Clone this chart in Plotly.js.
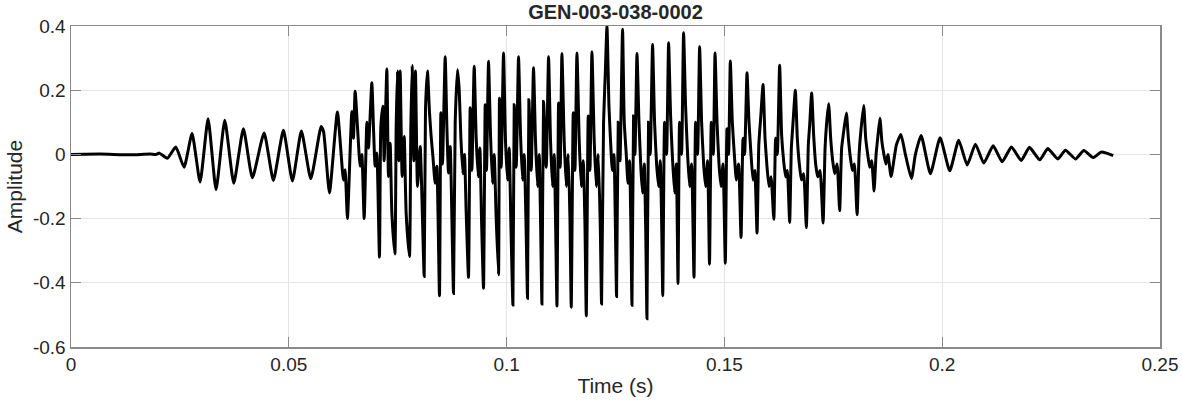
<!DOCTYPE html>
<html>
<head>
<meta charset="utf-8">
<script src="https://cdn.plot.ly/plotly-3.0.1.min.js"></script>
<style>html,body{margin:0;padding:0;background:#fff;}#chart{width:1182px;height:404px;}</style>
</head>
<body>
<div id="chart"></div>
<script>
// Time in milliseconds (extrema and turning points of the waveform)
const timeMs = [
  0, 6.66, 13.55, 18.14, 19.52,
  20.28, 22.12, 24.05, 25.95, 27.79, 29.63, 31.47, 33.30, 35.30, 37.37, 39.57, 41.64,
  44.33, 46.46, 48.76, 50.83, 52.89, 55.05, 57.42, 57.99, 59.33, 61.16, 62.54, 62.93, 63.46,
  64.47, 64.84, 65.23, 65.76, 66.38, 66.77, 67.30,
  67.92, 68.29, 69.06, 69.43, 69.82, 70.21, 70.81,
  71.13, 71.59, 71.89, 72.51, 72.88, 73.27, 73.66, 74.35,
  74.65, 74.94, 75.27, 75.56, 76.02, 76.49, 76.94, 77.70,
  78.02, 78.32, 78.71, 79.08, 79.54, 80.16, 81.08,
  81.38, 81.83, 82.30, 82.68, 83.08, 83.60, 83.99, 84.59,
  84.91, 85.28, 85.90, 86.29, 86.66, 87.05, 87.81,
  88.20, 88.73, 89.12, 89.51, 89.97, 90.33, 90.72, 91.25,
  91.64, 92.03, 92.56, 93.02, 93.48, 93.87, 94.24, 94.70,
  95.09, 95.39, 95.85, 96.31, 96.76, 97.15, 97.61, 98.14,
  98.37, 98.76, 99.29, 99.75, 100.21, 100.60, 100.99, 101.45,
  101.75, 102.21, 102.74, 103.20, 103.66, 104.04, 104.43, 104.80,
  105.12, 105.65, 106.18, 106.64, 107.10, 107.49, 107.79, 108.11,
  108.48, 109.10, 109.63, 110.09, 110.54, 110.93, 111.23, 111.56,
  111.93, 112.31, 112.70, 113.23, 113.69, 114.15, 114.54, 114.84,
  115.30, 115.69, 116.15, 116.68, 117.14, 117.60, 117.99, 118.29,
  118.74, 119.13, 119.59, 120.12, 120.58, 121.04, 121.50, 121.80,
  122.26, 122.65, 123.04, 123.50, 123.87, 124.26, 124.65, 124.95, 125.24,
  125.63, 126.03, 126.62, 127.01, 127.47, 127.86, 128.23, 128.50, 128.78,
  129.15, 129.47, 129.93, 130.39, 130.85, 131.21, 131.61, 131.95, 132.22,
  132.59, 132.98, 133.51, 133.97, 134.43, 134.89, 135.28, 135.58, 135.85,
  136.27, 136.73, 137.19, 137.65, 138.11, 138.57, 138.96, 139.35,
  139.71, 140.17, 140.63, 141.09, 141.55, 142.01, 142.47, 143.02,
  143.39, 143.85, 144.31, 144.77, 145.23, 145.68, 146.14, 146.58,
  147.00, 147.46, 147.85, 148.31, 148.76, 149.22, 149.68, 150.21,
  150.60, 150.97, 151.36, 151.82, 152.28, 152.74, 153.26, 153.82,
  154.28, 154.64, 155.19, 155.65, 156.11, 156.57, 156.98, 157.49,
  157.90, 158.36, 158.87, 159.33, 159.79, 160.25, 160.71, 161.35,
  161.76, 162.15, 162.68, 163.14, 163.60, 164.06, 164.45, 164.98,
  165.37, 165.76, 166.28, 166.74, 167.20, 167.67, 168.19, 168.81,
  169.27, 169.57, 170.03, 170.49, 170.95, 171.41, 171.96, 172.65,
  173.11, 173.48, 173.94, 174.40, 174.86, 175.32, 175.87, 176.46,
  176.92, 177.47, 178.00, 178.46, 178.92, 179.38, 179.84, 180.46,
  180.92, 181.38, 181.98, 182.44, 182.90, 183.35, 183.81, 184.36,
  184.82, 185.19, 185.70, 186.16, 186.62, 187.08, 187.53, 188.27,
  189.49, 190.52, 191.55, 192.93, 193.85, 195.16, 197.30, 199.52, 201.73, 203.79,
  205.73, 207.63, 209.54, 211.70, 213.76, 215.90, 218.13, 220.03, 222.40, 224.23,
  226.54, 228.30, 230.60, 232.51, 234.66, 236.45, 237.72, 239.25
];

// Amplitude at each of those times
const amplitude = [
  0, 0.001, -0.001, 0.001, 0,
  0.004, -0.012, 0.023, -0.04, 0.065, -0.086, 0.111, -0.11, 0.106, -0.09, 0.08, -0.073,
  0.067, -0.081, 0.075, -0.083, 0.073, -0.076, 0.087, 0.07, -0.12, 0.132, -0.08, -0.048, -0.2,
  0.134, 0.05, 0.197, 0.087, -0.037, 0.0, -0.2,
  0.1, 0.02, 0.223, 0.087, -0.037, 0.004, -0.32,
  0.087, 0.15, -0.02, 0.266, -0.069, 0.035, -0.183, -0.31,
  0.087, 0.26, -0.02, 0.26, -0.069, 0.056, -0.183, -0.318,
  0.087, 0.277, -0.02, 0.26, -0.1, 0.025, -0.38,
  0.14, 0.26, 0.13, 0.056, -0.006, -0.09, -0.037, -0.44,
  0.13, -0.03, 0.304, 0.087, -0.058, 0.025, -0.433,
  0.1, 0.264, 0.2, 0.05, -0.06, 0.0, -0.18, -0.383,
  0.145, -0.05, 0.275, 0.05, -0.07, 0.02, -0.2, -0.417,
  0.155, -0.05, 0.29, 0.06, -0.09, 0.0, -0.2, -0.375,
  0.175, -0.04, 0.316, 0.04, -0.08, 0.02, -0.22, -0.469,
  0.155, -0.04, 0.304, 0.06, -0.08, 0.0, -0.2, -0.448,
  0.17, -0.05, 0.27, 0.04, -0.1, 0.0, -0.2, -0.466,
  0.165, -0.04, 0.304, 0.04, -0.1, 0.0, -0.2, -0.472,
  0.16, -0.04, 0.314, 0.04, -0.1, 0.0, -0.2, -0.476,
  0.13, -0.05, 0.316, 0.04, -0.1, -0.02, -0.22, -0.503,
  0.12, -0.05, 0.32, 0.04, -0.1, 0.0, -0.22, -0.466,
  0.1, 0.25, 0.4, 0.15, 0.04, -0.05, 0.0, -0.2, -0.443,
  0.1, -0.02, 0.39, 0.1, 0.0, -0.09, -0.02, -0.2, -0.47,
  0.12, 0.0, 0.314, 0.1, -0.05, -0.12, -0.03, -0.25, -0.512,
  0.1, 0.0, 0.342, 0.1, -0.03, -0.1, -0.02, -0.2, -0.44,
  0.1, 0.0, 0.348, 0.12, -0.02, -0.12, -0.03, -0.402,
  0.1, 0.0, 0.379, 0.15, 0.0, -0.1, -0.03, -0.383,
  0.1, 0.0, 0.335, 0.1, -0.03, -0.1, -0.02, -0.342,
  0.1, 0.0, 0.316, 0.1, -0.03, -0.1, -0.03, -0.339,
  0.08, 0.0, 0.291, 0.1, 0.0, -0.08, -0.03, -0.259,
  0.05, 0.0, 0.254, 0.1, 0.0, -0.08, -0.05, -0.245,
  0.03, 0.12, 0.218, 0.05, -0.04, -0.1, -0.07, -0.202,
  0.05, 0.0, 0.278, 0.06, -0.02, -0.07, -0.05, -0.212,
  0.02, 0.1, 0.2, 0.05, -0.03, -0.08, -0.06, -0.228,
  0.03, 0.09, 0.191, 0.06, -0.03, -0.07, -0.05, -0.214,
  0.02, 0.1, 0.158, 0.05, -0.02, -0.06, -0.03, -0.175,
  0.02, 0.08, 0.129, 0.05, -0.01, -0.05, -0.03, -0.188,
  0.0, 0.08, 0.152, 0.05, 0.0, -0.04, -0.02, -0.114,
  0.0, 0.05, 0.113, 0.04, 0.0, -0.03, 0.0, -0.069,
  0.03, 0.062, 0.0, -0.075, 0.0, 0.059, -0.06, 0.052, -0.051, 0.044,
  -0.033, 0.032, -0.027, 0.027, -0.023, 0.023, -0.019, 0.022, -0.017, 0.018,
  -0.014, 0.013, -0.014, 0.012, -0.01, 0.007, 0.004, -0.004
];

const xTickVals = [0, 0.05, 0.1, 0.15, 0.2, 0.25];
const xTickText = ['0', '0.05', '0.1', '0.15', '0.2', '0.25'];
const yTickVals = [-0.6, -0.4, -0.2, 0, 0.2, 0.4];
const yTickText = ['-0.6', '-0.4', '-0.2', '0', '0.2', '0.4'];

const chartTitle = 'GEN-003-038-0002';
const xLabel = 'Time (s)';
const yLabel = 'Amplitude';

const timeSec = timeMs.map(v => v / 1000);

const font = '"Liberation Sans", Arial, Helvetica, sans-serif';
const axisColor = '#8a8a8a';
const gridColor = '#e4e4e4';
const textColor = '#262626';

const trace = {
  x: timeSec,
  y: amplitude,
  type: 'scatter',
  mode: 'lines',
  line: {color: '#000000', width: 3, shape: 'spline', smoothing: 0.5},
  hoverinfo: 'x+y'
};

const layout = {
  width: 1182,
  height: 404,
  margin: {l: 71, r: 22, t: 26, b: 57},
  paper_bgcolor: '#ffffff',
  plot_bgcolor: '#ffffff',
  showlegend: false,
  font: {family: font, color: textColor, size: 18},
  title: {
    text: '<b>' + chartTitle + '</b>',
    font: {family: font, size: 20, color: textColor},
    x: 0.5, xref: 'paper', xanchor: 'center',
    y: 1 - 12 / 404, yref: 'container', yanchor: 'middle'
  },
  xaxis: {
    range: [0, 0.25],
    tickvals: xTickVals,
    ticktext: xTickText,
    ticks: 'inside',
    ticklen: 10,
    tickwidth: 1,
    tickcolor: axisColor,
    showline: true,
    linecolor: axisColor,
    linewidth: 1.5,
    mirror: 'ticks',
    showgrid: true,
    gridcolor: gridColor,
    gridwidth: 1,
    zeroline: false,
    tickfont: {family: font, size: 19, color: textColor},
    title: {text: xLabel, font: {family: font, size: 21, color: textColor}, standoff: 4}
  },
  yaxis: {
    range: [-0.6, 0.4],
    tickvals: yTickVals,
    ticktext: yTickText,
    ticks: 'inside',
    ticklen: 10,
    tickwidth: 1,
    tickcolor: axisColor,
    showline: true,
    linecolor: axisColor,
    linewidth: 1.5,
    mirror: 'ticks',
    showgrid: true,
    gridcolor: gridColor,
    gridwidth: 1,
    zeroline: false,
    tickfont: {family: font, size: 19, color: textColor},
    title: {text: yLabel, font: {family: font, size: 21, color: textColor}, standoff: 4}
  }
};

Plotly.newPlot('chart', [trace], layout, {displayModeBar: false, staticPlot: true});
</script>
</body>
</html>
